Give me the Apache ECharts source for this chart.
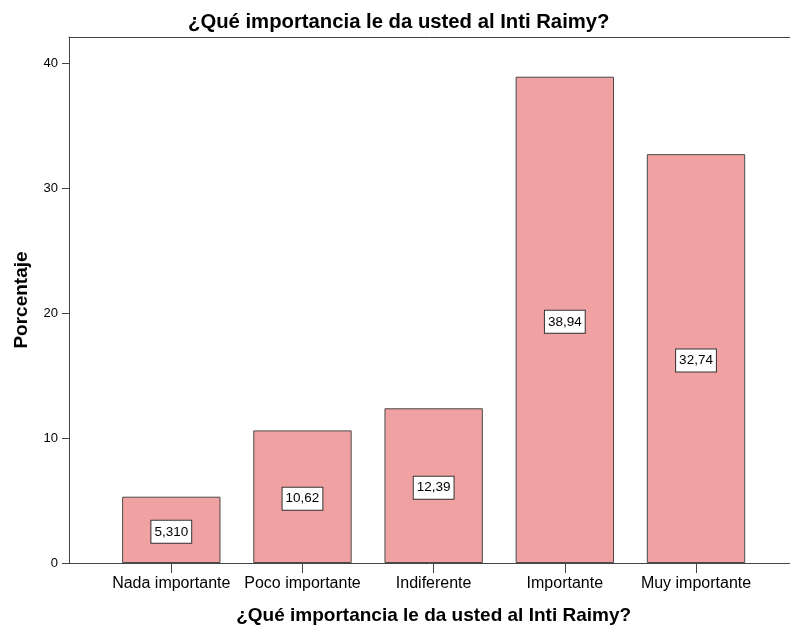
<!DOCTYPE html>
<html>
<head>
<meta charset="utf-8">
<script src="https://cdn.jsdelivr.net/npm/echarts@6/dist/echarts.min.js"></script>
<style>html,body{margin:0;padding:0;background:#fff}#c{width:790px;height:625px}</style>
</head>
<body>
<div id="c"></div>
<script>
const titleText = '¿Qué importancia le da usted al Inti Raimy?';
const xAxisTitle = '¿Qué importancia le da usted al Inti Raimy?';
const yAxisTitle = 'Porcentaje';
const categories = ['Nada importante', 'Poco importante', 'Indiferente', 'Importante', 'Muy importante'];
const percentages = [5.310, 10.62, 12.39, 38.94, 32.74];
const yTicks = [0, 10, 20, 30, 40];

const FONT = '"Liberation Sans", Arial, sans-serif';
const AX = '#444';
const fmt = v => v.toPrecision(4).replace('.', ',');

const chart = echarts.init(document.getElementById('c'), null, {renderer: 'canvas'});
chart.setOption({
  animation: false,
  backgroundColor: '#fff',
  textStyle: {fontFamily: FONT},
  title: {
    text: titleText, left: 183, top: 7,
    textStyle: {fontFamily: FONT, fontSize: 20.3, fontWeight: 'bold', color: '#000'}
  },
  grid: [
    {left: 69, right: 0, top: 37, bottom: 62, containLabel: false, outerBoundsMode: 'none'},
    {left: 105.7, right: 28.4, top: 37, bottom: 62, containLabel: false, outerBoundsMode: 'none'}
  ],
  xAxis: [
    {gridIndex: 0, type: 'value', min: 0, max: 1, position: 'bottom',
      axisLine: {show: true, onZero: false, lineStyle: {color: AX, width: 1}},
      axisTick: {show: false}, axisLabel: {show: false}, splitLine: {show: false}},
    {
      gridIndex: 1, type: 'category', data: categories, boundaryGap: true,
      axisLine: {show: false, onZero: false},
      axisTick: {show: true, alignWithLabel: true, length: 10, lineStyle: {color: AX, width: 1}},
      axisLabel: {fontFamily: FONT, fontSize: 16, color: '#000', margin: 13, interval: 0},
      name: xAxisTitle, nameLocation: 'middle', nameGap: 43,
      nameTextStyle: {fontFamily: FONT, fontSize: 19, fontWeight: 'bold', color: '#000'}
    },
    {gridIndex: 0, type: 'value', min: 0, max: 1, position: 'top',
      axisLine: {show: true, onZero: false, lineStyle: {color: AX, width: 1}},
      axisTick: {show: false}, axisLabel: {show: false}, splitLine: {show: false}}
  ],
  yAxis: [
    {
      gridIndex: 0, type: 'value', min: 0, max: 42.12,
      splitLine: {show: false},
      axisLine: {show: true, onZero: false, lineStyle: {color: AX, width: 1}},
      axisTick: {show: true, length: 7, customValues: yTicks, lineStyle: {color: AX, width: 1}},
      axisLabel: {customValues: yTicks, fontFamily: FONT, fontSize: 13, color: '#000', margin: 11},
      name: yAxisTitle, nameLocation: 'middle', nameGap: 38, nameRotate: 90,
      nameTextStyle: {fontFamily: FONT, fontSize: 19, fontWeight: 'bold', color: '#000'}
    },
    {gridIndex: 1, type: 'value', min: 0, max: 42.12, show: false, splitLine: {show: false}}
  ],
  series: [{
    type: 'bar', xAxisIndex: 1, yAxisIndex: 1,
    data: percentages, barWidth: '75%',
    itemStyle: {color: '#F0A1A1', borderColor: '#4a4a4a', borderWidth: 1},
    label: {
      show: true, position: 'inside', offset: [0, 2], formatter: p => fmt(p.value),
      fontFamily: FONT, fontSize: 13.5, color: '#000',
      backgroundColor: '#fff', borderColor: '#333', borderWidth: 1, padding: [4, 3, 4, 3]
    }
  }]
});
</script>
</body>
</html>
